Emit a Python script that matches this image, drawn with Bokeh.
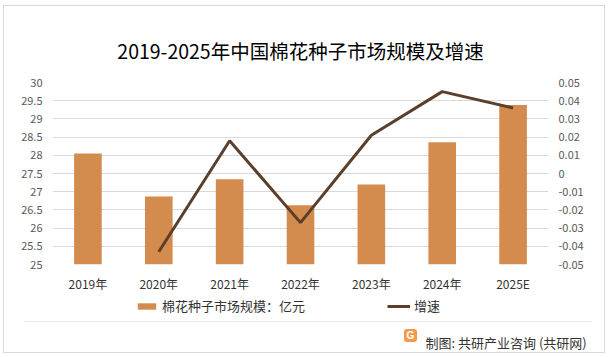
from bokeh.plotting import figure
from bokeh.layouts import column
from bokeh.models import (FactorRange, Range1d, LinearAxis, FixedTicker,
                          CustomJSTickFormatter, Legend, LegendItem, Title,
                          InlineStyleSheet)
from bokeh.embed import file_html
from bokeh.resources import INLINE

years = ["2019年", "2020年", "2021年", "2022年", "2023年", "2024年", "2025E"]
market_size = [28.05, 26.87, 27.34, 26.63, 27.20, 28.36, 29.38]
growth_years = ["2020年", "2021年", "2022年", "2023年", "2024年", "2025E"]
growth = [-0.043, 0.018, -0.027, 0.021, 0.045, 0.036]
left_ticks = [25, 25.5, 26, 26.5, 27, 27.5, 28, 28.5, 29, 29.5, 30]
right_ticks = [-0.05, -0.04, -0.03, -0.02, -0.01, 0, 0.01, 0.02, 0.03, 0.04, 0.05]

title_text = "2019-2025年中国棉花种子市场规模及增速"
bar_label = "棉花种子市场规模：亿元"
line_label = "增速"
source_text = "制图: 共研产业咨询 (共研网)"

FONT = "Noto Sans CJK SC"
BAR_COLOR = "#d48b4e"
LINE_COLOR = "#5b3f2a"

# outer frame, separator line and small logo square (decoration only)
css = InlineStyleSheet(css="""
:host::before { content: ""; position: absolute; left: 3px; top: 5px;
  width: 602px; height: 348px; border: 1px solid #d9d9d9; box-sizing: border-box;
  background: linear-gradient(#e8e8e8, #e8e8e8) no-repeat;
  background-size: 567px 1px; background-position: 21px 315px;
  pointer-events: none; z-index: 10; }
:host::after { content: "G"; position: absolute; left: 404px; top: 329px;
  width: 13px; height: 13px; border-radius: 3px; background: #f39a4a;
  color: white; font: bold 10px/13px sans-serif; text-align: center;
  pointer-events: none; z-index: 10; }
""")

# ---------------- main chart ----------------
p = figure(x_range=FactorRange(*years), y_range=Range1d(25, 30),
           frame_width=496, frame_height=182,
           output_backend="svg", toolbar_location=None,
           min_border_left=52, min_border_right=61, min_border_top=82,
           min_border_bottom=27)
p.outline_line_color = None
p.background_fill_color = "white"
p.border_fill_color = "white"

p.title.text = title_text
p.title.align = "center"
p.title.text_font = FONT
p.title.text_font_size = "19.5px"
p.title.text_font_style = "normal"
p.title.text_color = "#000000"
p.title.standoff = 36

fmt = CustomJSTickFormatter(code="return Number(tick.toFixed(2)).toString();")

for ax in [p.yaxis[0], p.xaxis[0]]:
    ax.axis_line_color = None
    ax.major_tick_line_color = None
    ax.minor_tick_line_color = None
    ax.major_tick_out = 0
    ax.major_tick_in = 0

p.yaxis.ticker = FixedTicker(ticks=left_ticks)
p.yaxis.formatter = fmt
p.yaxis.major_label_standoff = 10
p.yaxis.major_label_text_font = FONT
p.yaxis.major_label_text_font_size = "11px"
p.yaxis.major_label_text_color = "#595959"

p.xaxis.major_label_standoff = 10
p.xaxis.major_label_text_font = FONT
p.xaxis.major_label_text_font_size = "12px"
p.xaxis.major_label_text_color = "#333333"

p.xgrid.grid_line_color = None
p.ygrid.ticker = FixedTicker(ticks=left_ticks)
p.ygrid.grid_line_color = "#d9d9d9"

p.extra_y_ranges = {"g": Range1d(-0.05, 0.05)}
rax = LinearAxis(y_range_name="g", ticker=FixedTicker(ticks=right_ticks),
                 formatter=fmt)
rax.axis_line_color = None
rax.major_tick_line_color = None
rax.minor_tick_line_color = None
rax.major_tick_out = 0
rax.major_tick_in = 0
rax.major_label_standoff = 10
rax.major_label_text_font = FONT
rax.major_label_text_font_size = "11px"
rax.major_label_text_color = "#595959"
p.add_layout(rax, "right")

p.vbar(x=years, top=market_size, bottom=25, width=0.39,
       fill_color=BAR_COLOR, line_color=None)
p.line(x=growth_years, y=growth, y_range_name="g", line_width=3,
       line_color=LINE_COLOR)

# ---------------- bottom strip: legend + source ----------------
p2 = figure(frame_width=496, frame_height=35, title=None,
            x_range=Range1d(0, 1), y_range=Range1d(0, 1),
            output_backend="svg", toolbar_location=None,
            x_axis_location=None, y_axis_location=None,
            min_border_left=52, min_border_right=61, min_border_top=0,
            min_border_bottom=0)
p2.grid.visible = False
p2.outline_line_color = None
p2.background_fill_color = "white"
p2.border_fill_color = "white"

# legend stand-ins, kept outside the visible range (only their swatches show)
bar_proxy = p2.vbar(x=[-5], top=[-5], bottom=[-6], width=0.5,
                    fill_color=BAR_COLOR, line_color=None)
line_proxy = p2.line(x=[-6, -5], y=[-5, -5], line_width=3, line_color=LINE_COLOR)

legend = Legend(items=[LegendItem(label=bar_label, renderers=[bar_proxy]),
                       LegendItem(label=line_label, renderers=[line_proxy])],
                orientation="horizontal", location=(83, 14),
                glyph_width=23, glyph_height=8, label_standoff=4, spacing=82,
                padding=0, margin=0, border_line_color=None,
                background_fill_alpha=0, label_height=14,
                label_text_font=FONT, label_text_font_size="13px",
                label_text_color="#333333")
p2.add_layout(legend, "center")

src = Title(text=source_text, align="left", offset=373, standoff=2,
            text_font=FONT, text_font_size="13px", text_font_style="normal",
            text_color="#333333")
p2.add_layout(src, "below")

layout = column(p, p2, spacing=0, stylesheets=[css])

open("out.html", "w").write(file_html(layout, INLINE))
